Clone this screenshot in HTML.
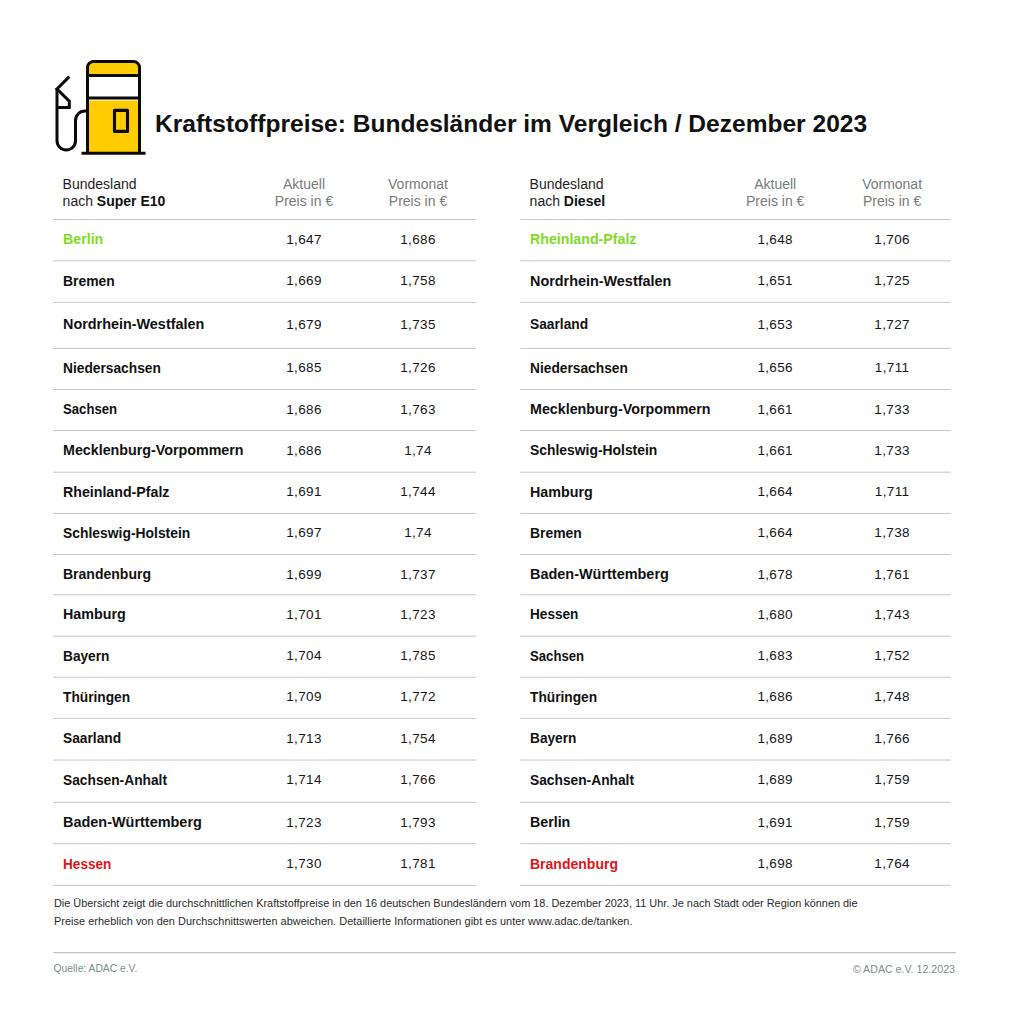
<!DOCTYPE html>
<html lang="de"><head><meta charset="utf-8"><title>Kraftstoffpreise</title>
<style>
html,body{margin:0;padding:0;background:#fff;}
body{width:1024px;height:1018px;position:relative;overflow:hidden;font-family:"Liberation Sans",sans-serif;color:#1a1a1a;}
.a{position:absolute;white-space:nowrap;transform-origin:0 0;}
.ln{position:absolute;height:1px;background:#c9c9c9;}
.nm{font-weight:bold;font-size:14.40px;line-height:14.40px;color:#111;}
.nu{font-size:13.50px;line-height:13.50px;color:#161616;width:100px;text-align:center;letter-spacing:0.35px;}
.hd{font-size:14.00px;line-height:17px;color:#1e1e1e;}
.hc{font-size:14.00px;line-height:17px;color:#7a7a7a;width:100px;text-align:center;}
.g{color:#7fdc22;}
.r{color:#e01418;}
.ttl{font-weight:bold;font-size:24.55px;line-height:24.4px;color:#111;}
.ft{font-size:10.9px;line-height:18px;color:#2a2a2a;}
.src{font-size:10.3px;line-height:12px;color:#7f8b8b;}
</style></head><body>
<svg class="a" style="left:0;top:0" width="160" height="170" viewBox="0 0 160 170">
<path d="M88,100.5 H139.5 V152.5 H88 Z" fill="#ffcc00"/>
<path d="M88,76 V67.5 A6,6 0 0 1 94,61.5 H133.5 A6,6 0 0 1 139.5,67.5 V76 Z" fill="#ffcc00"/>
<path d="M87.5,153 V67.5 A6,6 0 0 1 93.5,61.5 H133.5 A6,6 0 0 1 139.5,67.5 V153" fill="none" stroke="#0a0a0a" stroke-width="3"/>
<path d="M81.5,153.3 H145.5" stroke="#0a0a0a" stroke-width="3"/>
<path d="M88,75.5 H139" stroke="#0a0a0a" stroke-width="3"/>
<path d="M88,98 H139" stroke="#0a0a0a" stroke-width="3"/>
<rect x="114.5" y="110.4" width="13" height="21" fill="none" stroke="#0a0a0a" stroke-width="3.1" stroke-linejoin="round"/>
<path d="M69.3,76.6 L57,89 L69.3,101.2 V107.5 H57" fill="none" stroke="#0a0a0a" stroke-width="3"/>
<path d="M57,88 V140.75 A9.25,9.25 0 0 0 75.5,140.75 V120.5 A9.5,9.5 0 0 1 85,111 H88" fill="none" stroke="#0a0a0a" stroke-width="3"/>
</svg>
<div class="a ttl" style="left:155px;top:111.65px">Kraftstoffpreise: Bundesländer im Vergleich / Dezember 2023</div>
<svg class="a" style="left:0;top:0" width="1024" height="1018"><g stroke="#c6c6c6" stroke-width="1"><line x1="53" x2="476.3" y1="219.5" y2="219.5"/><line x1="520.2" x2="950.8" y1="219.5" y2="219.5"/><line x1="53" x2="476.3" y1="260.8" y2="260.8"/><line x1="520.2" x2="950.8" y1="260.8" y2="260.8"/><line x1="53" x2="476.3" y1="302.4" y2="302.4"/><line x1="520.2" x2="950.8" y1="302.4" y2="302.4"/><line x1="53" x2="476.3" y1="348.4" y2="348.4"/><line x1="520.2" x2="950.8" y1="348.4" y2="348.4"/><line x1="53" x2="476.3" y1="389.5" y2="389.5"/><line x1="520.2" x2="950.8" y1="389.5" y2="389.5"/><line x1="53" x2="476.3" y1="430.6" y2="430.6"/><line x1="520.2" x2="950.8" y1="430.6" y2="430.6"/><line x1="53" x2="476.3" y1="472.2" y2="472.2"/><line x1="520.2" x2="950.8" y1="472.2" y2="472.2"/><line x1="53" x2="476.3" y1="513.4" y2="513.4"/><line x1="520.2" x2="950.8" y1="513.4" y2="513.4"/><line x1="53" x2="476.3" y1="554.5" y2="554.5"/><line x1="520.2" x2="950.8" y1="554.5" y2="554.5"/><line x1="53" x2="476.3" y1="594.7" y2="594.7"/><line x1="520.2" x2="950.8" y1="594.7" y2="594.7"/><line x1="53" x2="476.3" y1="636.2" y2="636.2"/><line x1="520.2" x2="950.8" y1="636.2" y2="636.2"/><line x1="53" x2="476.3" y1="677.3" y2="677.3"/><line x1="520.2" x2="950.8" y1="677.3" y2="677.3"/><line x1="53" x2="476.3" y1="718.4" y2="718.4"/><line x1="520.2" x2="950.8" y1="718.4" y2="718.4"/><line x1="53" x2="476.3" y1="760.0" y2="760.0"/><line x1="520.2" x2="950.8" y1="760.0" y2="760.0"/><line x1="53" x2="476.3" y1="802.4" y2="802.4"/><line x1="520.2" x2="950.8" y1="802.4" y2="802.4"/><line x1="53" x2="476.3" y1="843.7" y2="843.7"/><line x1="520.2" x2="950.8" y1="843.7" y2="843.7"/><line x1="53" x2="476.3" y1="885.4" y2="885.4"/><line x1="520.2" x2="950.8" y1="885.4" y2="885.4"/></g></svg>
<div class="a hd" style="left:62.6px;top:176.25px">Bundesland<br>nach <b style="color:#111">Super E10</b></div>
<div class="a hc" style="left:254.0px;top:176.25px">Aktuell<br>Preis in €</div>
<div class="a hc" style="left:368.0px;top:176.25px">Vormonat<br>Preis in €</div>
<div class="a nm g" style="left:63.0px;top:232.21px;transform:scaleX(0.9870)">Berlin</div>
<div class="a nu" style="left:254.0px;top:232.97px">1,647</div>
<div class="a nu" style="left:368.0px;top:232.97px">1,686</div>
<div class="a nm " style="left:63.0px;top:273.61px;transform:scaleX(0.9657)">Bremen</div>
<div class="a nu" style="left:254.0px;top:274.37px">1,669</div>
<div class="a nu" style="left:368.0px;top:274.37px">1,758</div>
<div class="a nm " style="left:63.0px;top:317.41px;transform:scaleX(1.0000)">Nordrhein-Westfalen</div>
<div class="a nu" style="left:254.0px;top:318.17px">1,679</div>
<div class="a nu" style="left:368.0px;top:318.17px">1,735</div>
<div class="a nm " style="left:63.0px;top:360.71px;transform:scaleX(0.9557)">Niedersachsen</div>
<div class="a nu" style="left:254.0px;top:361.47px">1,685</div>
<div class="a nu" style="left:368.0px;top:361.47px">1,726</div>
<div class="a nm " style="left:63.0px;top:401.81px;transform:scaleX(0.9130)">Sachsen</div>
<div class="a nu" style="left:254.0px;top:402.57px">1,686</div>
<div class="a nu" style="left:368.0px;top:402.57px">1,763</div>
<div class="a nm " style="left:63.0px;top:443.01px;transform:scaleX(0.9917)">Mecklenburg-Vorpommern</div>
<div class="a nu" style="left:254.0px;top:443.77px">1,686</div>
<div class="a nu" style="left:368.0px;top:443.77px">1,74</div>
<div class="a nm " style="left:63.0px;top:484.61px;transform:scaleX(0.9859)">Rheinland-Pfalz</div>
<div class="a nu" style="left:254.0px;top:485.37px">1,691</div>
<div class="a nu" style="left:368.0px;top:485.37px">1,744</div>
<div class="a nm " style="left:63.0px;top:525.51px;transform:scaleX(0.9648)">Schleswig-Holstein</div>
<div class="a nu" style="left:254.0px;top:526.27px">1,697</div>
<div class="a nu" style="left:368.0px;top:526.27px">1,74</div>
<div class="a nm " style="left:63.0px;top:566.81px;transform:scaleX(0.9740)">Brandenburg</div>
<div class="a nu" style="left:254.0px;top:567.57px">1,699</div>
<div class="a nu" style="left:368.0px;top:567.57px">1,737</div>
<div class="a nm " style="left:63.0px;top:607.11px;transform:scaleX(0.9919)">Hamburg</div>
<div class="a nu" style="left:254.0px;top:607.87px">1,701</div>
<div class="a nu" style="left:368.0px;top:607.87px">1,723</div>
<div class="a nm " style="left:63.0px;top:648.51px;transform:scaleX(0.9516)">Bayern</div>
<div class="a nu" style="left:254.0px;top:649.27px">1,704</div>
<div class="a nu" style="left:368.0px;top:649.27px">1,785</div>
<div class="a nm " style="left:63.0px;top:689.51px;transform:scaleX(0.9540)">Thüringen</div>
<div class="a nu" style="left:254.0px;top:690.27px">1,709</div>
<div class="a nu" style="left:368.0px;top:690.27px">1,772</div>
<div class="a nm " style="left:63.0px;top:730.81px;transform:scaleX(0.9563)">Saarland</div>
<div class="a nu" style="left:254.0px;top:731.57px">1,713</div>
<div class="a nu" style="left:368.0px;top:731.57px">1,754</div>
<div class="a nm " style="left:63.0px;top:772.51px;transform:scaleX(0.9563)">Sachsen-Anhalt</div>
<div class="a nu" style="left:254.0px;top:773.27px">1,714</div>
<div class="a nu" style="left:368.0px;top:773.27px">1,766</div>
<div class="a nm " style="left:63.0px;top:815.31px;transform:scaleX(1.0037)">Baden-Württemberg</div>
<div class="a nu" style="left:254.0px;top:816.07px">1,723</div>
<div class="a nu" style="left:368.0px;top:816.07px">1,793</div>
<div class="a nm r" style="left:63.0px;top:856.51px;transform:scaleX(0.9455)">Hessen</div>
<div class="a nu" style="left:254.0px;top:857.27px">1,730</div>
<div class="a nu" style="left:368.0px;top:857.27px">1,781</div>
<div class="a hd" style="left:529.6px;top:176.25px">Bundesland<br>nach <b style="color:#111">Diesel</b></div>
<div class="a hc" style="left:725.2px;top:176.25px">Aktuell<br>Preis in €</div>
<div class="a hc" style="left:842.1px;top:176.25px">Vormonat<br>Preis in €</div>
<div class="a nm g" style="left:530.0px;top:232.21px;transform:scaleX(0.9859)">Rheinland-Pfalz</div>
<div class="a nu" style="left:725.2px;top:232.97px">1,648</div>
<div class="a nu" style="left:842.1px;top:232.97px">1,706</div>
<div class="a nm " style="left:530.0px;top:273.61px;transform:scaleX(1.0000)">Nordrhein-Westfalen</div>
<div class="a nu" style="left:725.2px;top:274.37px">1,651</div>
<div class="a nu" style="left:842.1px;top:274.37px">1,725</div>
<div class="a nm " style="left:530.0px;top:317.41px;transform:scaleX(0.9563)">Saarland</div>
<div class="a nu" style="left:725.2px;top:318.17px">1,653</div>
<div class="a nu" style="left:842.1px;top:318.17px">1,727</div>
<div class="a nm " style="left:530.0px;top:360.71px;transform:scaleX(0.9557)">Niedersachsen</div>
<div class="a nu" style="left:725.2px;top:361.47px">1,656</div>
<div class="a nu" style="left:842.1px;top:361.47px">1,711</div>
<div class="a nm " style="left:530.0px;top:401.81px;transform:scaleX(0.9917)">Mecklenburg-Vorpommern</div>
<div class="a nu" style="left:725.2px;top:402.57px">1,661</div>
<div class="a nu" style="left:842.1px;top:402.57px">1,733</div>
<div class="a nm " style="left:530.0px;top:443.01px;transform:scaleX(0.9648)">Schleswig-Holstein</div>
<div class="a nu" style="left:725.2px;top:443.77px">1,661</div>
<div class="a nu" style="left:842.1px;top:443.77px">1,733</div>
<div class="a nm " style="left:530.0px;top:484.61px;transform:scaleX(0.9919)">Hamburg</div>
<div class="a nu" style="left:725.2px;top:485.37px">1,664</div>
<div class="a nu" style="left:842.1px;top:485.37px">1,711</div>
<div class="a nm " style="left:530.0px;top:525.51px;transform:scaleX(0.9657)">Bremen</div>
<div class="a nu" style="left:725.2px;top:526.27px">1,664</div>
<div class="a nu" style="left:842.1px;top:526.27px">1,738</div>
<div class="a nm " style="left:530.0px;top:566.81px;transform:scaleX(1.0037)">Baden-Württemberg</div>
<div class="a nu" style="left:725.2px;top:567.57px">1,678</div>
<div class="a nu" style="left:842.1px;top:567.57px">1,761</div>
<div class="a nm " style="left:530.0px;top:607.11px;transform:scaleX(0.9455)">Hessen</div>
<div class="a nu" style="left:725.2px;top:607.87px">1,680</div>
<div class="a nu" style="left:842.1px;top:607.87px">1,743</div>
<div class="a nm " style="left:530.0px;top:648.51px;transform:scaleX(0.9130)">Sachsen</div>
<div class="a nu" style="left:725.2px;top:649.27px">1,683</div>
<div class="a nu" style="left:842.1px;top:649.27px">1,752</div>
<div class="a nm " style="left:530.0px;top:689.51px;transform:scaleX(0.9540)">Thüringen</div>
<div class="a nu" style="left:725.2px;top:690.27px">1,686</div>
<div class="a nu" style="left:842.1px;top:690.27px">1,748</div>
<div class="a nm " style="left:530.0px;top:730.81px;transform:scaleX(0.9516)">Bayern</div>
<div class="a nu" style="left:725.2px;top:731.57px">1,689</div>
<div class="a nu" style="left:842.1px;top:731.57px">1,766</div>
<div class="a nm " style="left:530.0px;top:772.51px;transform:scaleX(0.9563)">Sachsen-Anhalt</div>
<div class="a nu" style="left:725.2px;top:773.27px">1,689</div>
<div class="a nu" style="left:842.1px;top:773.27px">1,759</div>
<div class="a nm " style="left:530.0px;top:815.31px;transform:scaleX(0.9870)">Berlin</div>
<div class="a nu" style="left:725.2px;top:816.07px">1,691</div>
<div class="a nu" style="left:842.1px;top:816.07px">1,759</div>
<div class="a nm r" style="left:530.0px;top:856.51px;transform:scaleX(0.9740)">Brandenburg</div>
<div class="a nu" style="left:725.2px;top:857.27px">1,698</div>
<div class="a nu" style="left:842.1px;top:857.27px">1,764</div>
<div class="a ft" style="left:54px;top:894.22px">Die Übersicht zeigt die durchschnittlichen Kraftstoffpreise in den 16 deutschen Bundesländern vom 18. Dezember 2023, 11 Uhr. Je nach Stadt oder Region können die<br><span style="letter-spacing:0.045px">Preise erheblich von den Durchschnittswerten abweichen. Detaillierte Informationen gibt es unter www.adac.de/tanken.</span></div>
<svg class="a" style="left:0;top:0" width="1024" height="1018"><line x1="53.5" x2="955.8" y1="952.7" y2="952.7" stroke="#c2c2c2" stroke-width="1.3"/></svg>
<div class="a src" style="left:53.6px;top:963.13px">Quelle: ADAC e.V.</div>
<div class="a src" style="right:69px;top:963.13px;font-size:10.65px">© ADAC e.V. 12.2023</div>
</body></html>
